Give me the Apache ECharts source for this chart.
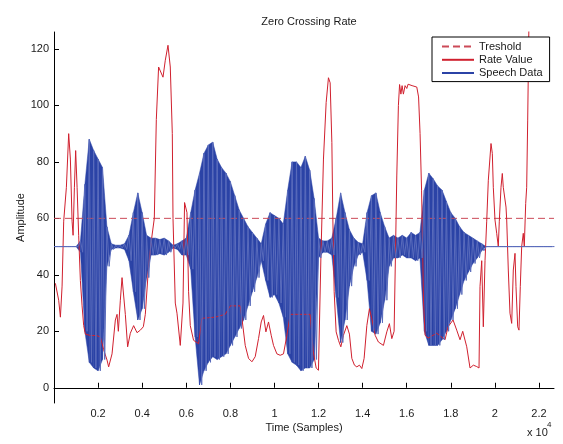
<!DOCTYPE html>
<html>
<head>
<meta charset="utf-8">
<title>Zero Crossing Rate</title>
<script src="https://cdn.jsdelivr.net/npm/echarts@6/dist/echarts.min.js"></script>
<style>
    html, body { margin: 0; padding: 0; background: #fff; }
    #chart { width: 563px; height: 444px; }
</style>
</head>
<body>
<div id="chart"></div>
<script>
// 坐标轴刻度
const xTicks = [2000, 4000, 6000, 8000, 10000, 12000, 14000, 16000, 18000, 20000, 22000];
const yTicks = [0, 20, 40, 60, 80, 100, 120];

// 阈值
const threshold = 60;

// 语音波形包络 (每 200 个采样一个值, 上沿 / 下沿)
const speechStep = 200;
const speechHi = [
    50, 50, 50, 50, 50, 50, 52, 72, 88, 84,
    81, 78, 57, 51, 50.5, 50.5, 51, 54, 62, 69,
    62, 54, 53, 53, 52.5, 53, 52, 50.5, 51, 52,
    53, 62, 70, 76, 83, 86, 87, 81, 78, 76,
    73, 68, 63, 60, 57, 55, 53, 51, 58, 62,
    61, 60, 58, 70, 80, 80, 78, 82, 77, 67,
    53, 52, 52, 53, 60, 69, 62, 56, 53, 51.5,
    51, 62, 68, 69, 62, 57, 53, 54, 53, 54,
    53, 55, 54, 55, 70, 76, 74, 71.5, 70, 66,
    62, 60, 57, 55, 54, 53, 52, 51, 50, 50,
    50, 50, 50, 50, 50, 50, 50, 50, 50, 50,
    50, 50, 50, 50
];
const speechLo = [
    50, 50, 50, 50, 50, 50, 48, 20, 9, 7,
    6, 10, 43, 49, 49.5, 49.5, 49, 45, 34, 24,
    28, 39, 47, 47, 47.5, 47, 48, 49.5, 49, 47,
    47, 42, 18, 1, 6, 9, 11, 10, 11, 12,
    15, 18, 21, 24, 29, 34, 39, 45, 38, 32,
    33, 30, 25, 12, 9, 8, 6, 7, 7, 10,
    46, 48, 48, 47, 32, 16, 24, 36, 43, 47,
    48, 38, 20, 19, 23, 31, 43, 46, 46, 47,
    46, 46, 45, 46, 20, 15, 15, 15, 17, 20,
    24, 28, 33, 38, 41, 44, 46, 48.5, 50, 50,
    50, 50, 50, 50, 50, 50, 50, 50, 50, 50,
    50, 50, 50, 50
];

// 过零率 (采样位置 / 数值)
const rateX = [
    63, 140, 213, 290, 367, 440, 562, 666, 743, 820,
    866, 925, 983, 1047, 1119, 1196, 1273, 1346, 1423, 1650,
    1922, 2103, 2252, 2406, 2479, 2633, 2783, 2860, 2919, 3009,
    3086, 3236, 3340, 3462, 3612, 3766, 3916, 4052, 4142, 4278,
    4414, 4550, 4641, 4745, 4822, 4944, 5049, 5171, 5275, 5366,
    5398, 5502, 5579, 5728, 5851, 5923, 6032, 6105, 6182, 6331,
    6558, 6712, 7315, 7768, 7994, 8448, 8525, 8674, 8824, 8978,
    9127, 9277, 9399, 9504, 9612, 9730, 9852, 9957, 10111, 10260,
    10410, 10564, 10713, 11167, 11620, 11756, 11892, 11996, 12105, 12223,
    12345, 12449, 12526, 12604, 12649, 12708, 12798, 12903, 13011, 13129,
    13283, 13401, 13510, 13628, 13736, 13854, 13963, 14067, 14190, 14307,
    14430, 14566, 14715, 14942, 15096, 15214, 15323, 15427, 15495, 15549,
    15622, 15676, 15735, 15789, 15848, 15925, 16002, 16061, 16243, 16456,
    16537, 16605, 16673, 16719, 16764, 16832, 16968, 17362, 17738, 17874,
    18101, 18268, 18418, 18540, 18722, 18871, 19021, 19175, 19279, 19324,
    19402, 19474, 19551, 19628, 19701, 19823, 19882, 19927, 20004, 20081,
    20154, 20199, 20276, 20335, 20380, 20458, 20503, 20535, 20607, 20684,
    20761, 20834, 20911, 20956, 21033, 21092, 21151, 21214, 21287, 21332,
    21396, 21441, 21487, 21545
];
const rateY = [
    37, 37, 31, 25, 36, 59, 71, 90, 81, 59,
    54, 71, 84, 71, 54, 38, 29, 22, 19, 18.5,
    18.5, 18, 13.5, 9.8, 7.4, 12, 24, 26, 20, 31,
    39, 26, 14.5, 19.3, 22, 19.5, 20.4, 21.6, 26, 41.6,
    52, 60, 95, 113.6, 114, 110, 116, 121.3, 113.6, 90,
    60, 30, 26.4, 15, 30, 65.6, 62, 34, 22, 16.8,
    15.6, 24.6, 25, 26, 29, 29, 24.5, 15, 10.4, 9.2,
    11, 17.4, 23.3, 25.6, 19.8, 23.3, 18.6, 15, 12, 11.5,
    12, 18.6, 26, 26, 26, 13, 7, 6.2, 45.6, 81,
    101, 109.8, 108, 86.8, 59.8, 34, 19.8, 16.8, 14.5, 18.6,
    22, 19, 10.4, 8, 7.4, 8, 6.8, 10.4, 22, 28,
    24, 18.6, 16.2, 15, 19.8, 22.7, 17.4, 20, 50, 75,
    100, 107.4, 104, 107, 104, 107, 106, 107.5, 107, 106.5,
    103, 90, 70, 50, 30, 18.6, 17.6, 19.3, 17, 21.6,
    24, 20.4, 17, 20, 14.5, 7, 8, 7.5, 7, 35.8,
    45, 21.6, 45, 59, 73.5, 86.5, 83, 71, 59.4, 54.7,
    50, 59, 71, 75.9, 71, 71, 64, 59.4, 41.7, 26.4,
    22.8, 41.7, 47.6, 35.8, 21.6, 20.4, 35.8, 50, 54.7, 50,
    65.3, 71, 94.8, 130
];

const xMin = 0;
const xMax = 22680;
const yMin = -5.4;
const yMax = 126;

const font = '"Liberation Sans", Arial, sans-serif';
const textColor = '#1a1a1a';
const blue = '#2b43a6';
const red = '#d0202e';
const dashRed = '#cc4a58';

// 波形: 上沿、下沿交替连线
const speechData = [];
speechHi.forEach((v, i) => {
    speechData.push([i * speechStep, v]);
    speechData.push([i * speechStep + speechStep / 2, speechLo[i]]);
});

// 包络带 [x, 下沿, 上沿]
const bandData = speechHi.map((v, i) => [i * speechStep, speechLo[i], v]);

const rateData = rateX.map((x, i) => [x, rateY[i]]);

const chart = echarts.init(document.getElementById('chart'));

chart.setOption({
    animation: false,
    backgroundColor: '#fff',
    title: {
        text: 'Zero Crossing Rate',
        left: 304,
        textAlign: 'center',
        top: 11,
        textStyle: {
            fontFamily: font,
            fontSize: 11,
            fontWeight: 'normal',
            color: textColor
        }
    },
    legend: {
        data: [
            { name: 'Treshold', lineStyle: { color: dashRed } },
            { name: 'Rate Value', lineStyle: { color: red } },
            { name: 'Speech Data', lineStyle: { color: blue } }
        ],
        orient: 'vertical',
        left: 432,
        top: 37,
        padding: [4, 7, 3, 9],
        itemWidth: 32,
        itemHeight: 14,
        itemGap: 2,
        backgroundColor: '#fff',
        borderColor: '#000',
        borderWidth: 1,
        borderRadius: 0,
        z: 10,
        itemStyle: { opacity: 0 },
        textStyle: {
            fontFamily: font,
            fontSize: 11,
            color: textColor
        }
    },
    grid: {
        left: 54,
        right: 9,
        top: 32,
        bottom: 41,
        containLabel: false,
        outerBoundsMode: 'none'
    },
    xAxis: {
        type: 'value',
        min: xMin,
        max: xMax,
        name: 'Time (Samples)',
        nameLocation: 'middle',
        nameGap: 19,
        nameMoveOverlap: false,
        nameTextStyle: {
            fontFamily: font,
            fontSize: 11,
            color: textColor
        },
        axisLine: { show: true, lineStyle: { color: '#000', width: 1 } },
        axisTick: {
            show: true,
            inside: true,
            length: 5,
            lineStyle: { color: '#000' },
            customValues: xTicks
        },
        axisLabel: {
            fontFamily: font,
            fontSize: 11,
            color: textColor,
            margin: 5,
            customValues: xTicks,
            formatter: v => String(parseFloat((v / 10000).toFixed(1)))
        },
        splitLine: { show: false }
    },
    yAxis: {
        type: 'value',
        min: yMin,
        max: yMax,
        name: 'Amplitude',
        nameLocation: 'middle',
        nameRotate: 90,
        nameGap: 28,
        nameMoveOverlap: false,
        nameTextStyle: {
            fontFamily: font,
            fontSize: 11,
            color: textColor
        },
        axisLine: { show: true, lineStyle: { color: '#000', width: 1 } },
        axisTick: {
            show: true,
            inside: true,
            length: 5,
            lineStyle: { color: '#000' },
            customValues: yTicks
        },
        axisLabel: {
            fontFamily: font,
            fontSize: 11,
            color: textColor,
            margin: 5,
            customValues: yTicks
        },
        splitLine: { show: false }
    },
    graphic: [
        {
            type: 'text',
            left: 527,
            top: 427,
            style: { text: 'x 10', fontFamily: font, fontSize: 11, fill: textColor }
        },
        {
            type: 'text',
            left: 547,
            top: 421,
            style: { text: '4', fontFamily: font, fontSize: 8, fill: textColor }
        }
    ],
    series: [
        {
            name: 'Treshold',
            type: 'line',
            data: [[xMin, threshold], [xMax, threshold]],
            symbol: 'none',
            lineStyle: { color: dashRed, width: 1, type: [7, 4] },
            itemStyle: { color: dashRed }
        },
        {
            name: 'Rate Value',
            type: 'line',
            data: rateData,
            symbol: 'none',
            clip: true,
            lineStyle: { color: red, width: 1 },
            itemStyle: { color: red }
        },
        {
            name: 'Speech Band',
            type: 'custom',
            data: bandData,
            encode: { x: 0, y: [1, 2] },
            silent: true,
            renderItem: (params, api) => {
                const i = params.dataIndexInside;
                if (i >= params.dataInsideLength - 1) {
                    return null;
                }
                const a = api.coord([api.value(0, i), api.value(2, i)]);
                const b = api.coord([api.value(0, i + 1), api.value(2, i + 1)]);
                const c = api.coord([api.value(0, i + 1), api.value(1, i + 1)]);
                const d = api.coord([api.value(0, i), api.value(1, i)]);
                return {
                    type: 'polygon',
                    shape: { points: [a, b, c, d] },
                    style: { fill: blue, stroke: blue, lineWidth: 0.5 }
                };
            }
        },
        {
            name: 'Speech Data',
            type: 'line',
            data: speechData,
            symbol: 'none',
            clip: true,
            lineStyle: { color: '#5a6cbc', width: 1 },
            itemStyle: { color: blue }
        }
    ]
});

window.addEventListener('resize', function () {
    chart.resize();
});
</script>
</body>
</html>
